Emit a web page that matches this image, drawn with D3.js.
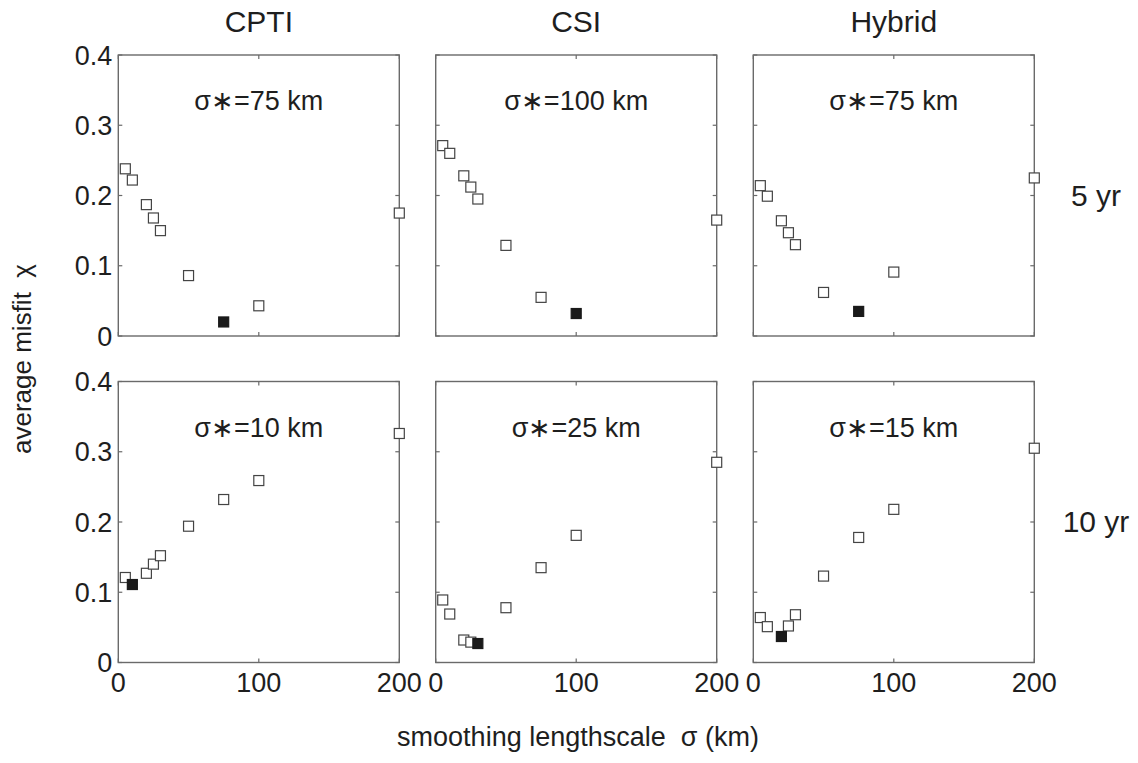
<!DOCTYPE html>
<html>
<head>
<meta charset="utf-8">
<script src="https://cdn.jsdelivr.net/npm/d3@7"></script>
<style>
  body { margin: 0; background: #fff; }
  svg { display: block; font-family: "Liberation Sans", Arial, sans-serif; }
</style>
</head>
<body>
<svg id="chart" width="1138" height="763"></svg>
<script>
// smoothing lengthscales tested (km)
const sigmas = [5, 10, 20, 25, 30, 50, 75, 100, 200];
const columns = ["CPTI", "CSI", "Hybrid"];
const rows = ["5 yr", "10 yr"];

// average misfit per panel
const cpti5 = [0.238, 0.222, 0.187, 0.168, 0.150, 0.086, 0.020, 0.043, 0.175];
const csi5 = [0.271, 0.260, 0.228, 0.212, 0.195, 0.129, 0.055, 0.032, 0.165];
const hybrid5 = [0.214, 0.199, 0.164, 0.147, 0.130, 0.062, 0.035, 0.091, 0.225];
const cpti10 = [0.121, 0.111, 0.127, 0.140, 0.152, 0.194, 0.232, 0.259, 0.326];
const csi10 = [0.089, 0.069, 0.032, 0.029, 0.027, 0.078, 0.135, 0.181, 0.285];
const hybrid10 = [0.064, 0.051, 0.037, 0.052, 0.068, 0.123, 0.178, 0.218, 0.305];

// optimal sigma labels and index of the filled marker
const bestLabel = [75, 100, 75, 10, 25, 15];
const filledIndex = [6, 7, 6, 1, 4, 2];

const panelSeries = [cpti5, csi5, hybrid5, cpti10, csi10, hybrid10];
const xTicks = [0, 100, 200];
const yTicks = [0, 0.1, 0.2, 0.3, 0.4];

const svg = d3.select("#chart");

const panelLeft = [118.3, 435.7, 753.3];
const panelTop = [55, 381.5];
const pw = 281, ph = 281;

const x = d3.scaleLinear().domain([0, 200]).range([0, pw]);
const y = d3.scaleLinear().domain([0, 0.4]).range([ph, 0]);

const boxColor = "#6a6a6a";
const textColor = "#1e1e1e";

panelSeries.forEach((vals, k) => {
  const r = Math.floor(k / 3), c = k % 3;
  const g = svg.append("g")
    .attr("transform", `translate(${panelLeft[c]},${panelTop[r]})`);

  // inward ticks on all four sides
  g.selectAll("line.xt")
    .data(xTicks)
    .enter()
    .append("line")
    .attr("x1", d => x(d)).attr("x2", d => x(d))
    .attr("y1", ph).attr("y2", ph - 4)
    .attr("stroke", boxColor).attr("stroke-width", 1.2);
  g.selectAll("line.xt2")
    .data(xTicks)
    .enter()
    .append("line")
    .attr("x1", d => x(d)).attr("x2", d => x(d))
    .attr("y1", 0).attr("y2", 4)
    .attr("stroke", boxColor).attr("stroke-width", 1.2);
  g.selectAll("line.yt")
    .data(yTicks)
    .enter()
    .append("line")
    .attr("x1", 0).attr("x2", 4)
    .attr("y1", d => y(d)).attr("y2", d => y(d))
    .attr("stroke", boxColor).attr("stroke-width", 1.2);
  g.selectAll("line.yt2")
    .data(yTicks)
    .enter()
    .append("line")
    .attr("x1", pw).attr("x2", pw - 4)
    .attr("y1", d => y(d)).attr("y2", d => y(d))
    .attr("stroke", boxColor).attr("stroke-width", 1.2);

  g.append("rect")
    .attr("width", pw).attr("height", ph)
    .attr("fill", "none")
    .attr("stroke", boxColor)
    .attr("stroke-width", 1.4);

  // tick labels only on outer panels
  if (c === 0) {
    g.selectAll("text.yl")
      .data(yTicks)
      .enter()
      .append("text")
      .attr("x", -6)
      .attr("y", d => y(d))
      .attr("dy", "0.36em")
      .attr("text-anchor", "end")
      .attr("font-size", 27)
      .attr("fill", textColor)
      .text(d => d === 0 ? "0" : d.toFixed(1));
  }
  if (r === 1) {
    g.selectAll("text.xl")
      .data(xTicks)
      .enter()
      .append("text")
      .attr("x", d => x(d))
      .attr("y", ph + 29)
      .attr("text-anchor", "middle")
      .attr("font-size", 27)
      .attr("fill", textColor)
      .text(d => d);
  }

  g.append("text")
    .attr("x", pw / 2)
    .attr("y", 55)
    .attr("text-anchor", "middle")
    .attr("font-size", 27)
    .attr("fill", textColor)
    .text(`σ∗=${bestLabel[k]} km`);

  const pts = sigmas.map((s, i) => ({ s: s, v: vals[i], filled: i === filledIndex[k] }));
  pts.sort((a, b) => a.filled - b.filled);

  g.selectAll("rect.pt")
    .data(pts)
    .enter()
    .append("rect")
    .attr("x", d => x(d.s) - 5)
    .attr("y", d => y(d.v) - 5)
    .attr("width", 10).attr("height", 10)
    .attr("fill", d => d.filled ? "#1a1a1a" : "#fff")
    .attr("stroke", d => d.filled ? "#1a1a1a" : "#444")
    .attr("stroke-width", 1.2);
});

// column titles
svg.selectAll("text.col")
  .data(columns)
  .enter()
  .append("text")
  .attr("x", (d, i) => panelLeft[i] + pw / 2)
  .attr("y", 32)
  .attr("text-anchor", "middle")
  .attr("font-size", 30)
  .attr("fill", textColor)
  .text(d => d);

// row labels
svg.selectAll("text.row")
  .data(rows)
  .enter()
  .append("text")
  .attr("x", 1096)
  .attr("y", (d, i) => panelTop[i] + ph / 2 + 10)
  .attr("text-anchor", "middle")
  .attr("font-size", 30)
  .attr("fill", textColor)
  .text(d => d);

// axis labels
svg.append("text")
  .attr("x", 578)
  .attr("y", 746)
  .attr("text-anchor", "middle")
  .attr("font-size", 27)
  .attr("fill", textColor)
  .text("smoothing lengthscale \u00a0σ (km)");

svg.append("text")
  .attr("transform", "translate(31,359) rotate(-90)")
  .attr("text-anchor", "middle")
  .attr("font-size", 26)
  .attr("fill", textColor)
  .text("average misfit \u00a0χ");
</script>
</body>
</html>
